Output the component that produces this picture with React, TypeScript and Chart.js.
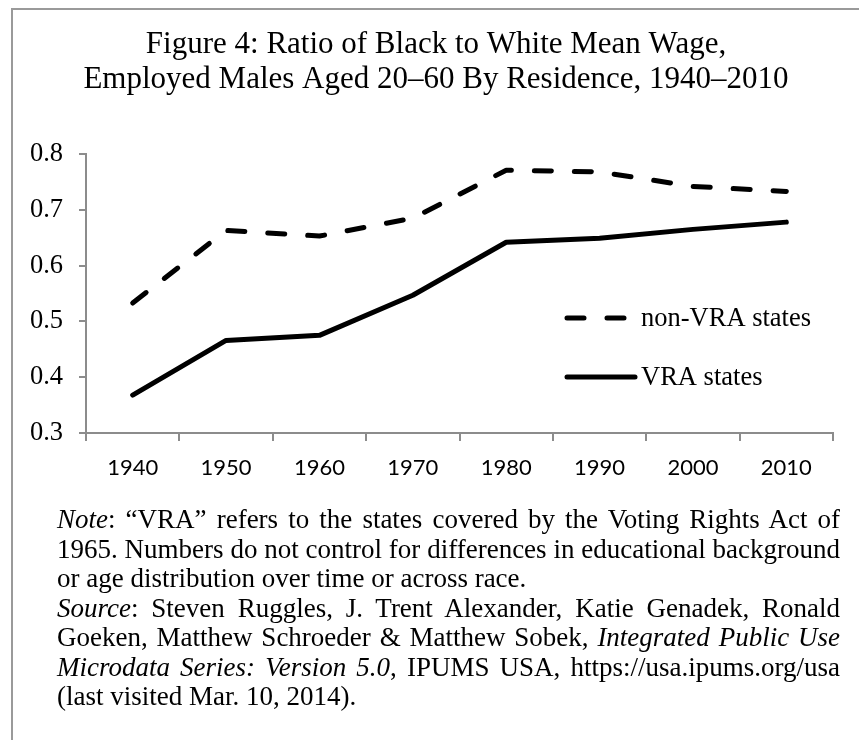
import React, { useEffect, useRef } from "react";
import { Chart, registerables } from "chart.js";

Chart.register(...registerables);

const categories = ["1940", "1950", "1960", "1970", "1980", "1990", "2000", "2010"];
const nonVRA = [0.533, 0.663, 0.653, 0.685, 0.771, 0.768, 0.742, 0.733];
const VRA = [0.368, 0.466, 0.475, 0.547, 0.642, 0.649, 0.665, 0.678];
const yTicks = [0.3, 0.4, 0.5, 0.6, 0.7, 0.8];
const seriesNames = ["non-VRA states", "VRA states"];
const titleLines = [
  "Figure 4: Ratio of Black to White Mean Wage,",
  "Employed Males Aged 20–60 By Residence, 1940–2010",
];

const SERIF = "'Liberation Serif', 'Times New Roman', serif";
const AXIS = "#8c8c8c";

const legendPlugin = {
  id: "insideLegend",
  afterDatasetsDraw(chart: any) {
    const { ctx, chartArea } = chart;
    const x0 = chartArea.left + 481;
    const x1 = chartArea.left + 549;
    const rows = [chartArea.top + 164, chartArea.top + 223];
    chart.data.datasets.forEach((ds: any, i: number) => {
      const y = rows[i];
      ctx.save();
      ctx.strokeStyle = ds.borderColor;
      ctx.lineWidth = ds.borderWidth;
      ctx.lineCap = "round";
      ctx.setLineDash(ds.borderDash || []);
      ctx.beginPath();
      ctx.moveTo(x0, y);
      ctx.lineTo(x1, y);
      ctx.stroke();
      ctx.setLineDash([]);
      ctx.fillStyle = "#000";
      ctx.font = `26.5px ${SERIF}`;
      ctx.textBaseline = "middle";
      ctx.textAlign = "left";
      ctx.fillText(ds.label, chartArea.left + 555, y + 1);
      ctx.restore();
    });
  },
};

export default function App() {
  const canvasRef = useRef<HTMLCanvasElement | null>(null);

  useEffect(() => {
    document.body.style.margin = "0";
    const canvas = canvasRef.current;
    if (!canvas) return;
    const chart = new Chart(canvas, {
      type: "line",
      data: {
        labels: categories,
        datasets: [
          {
            label: seriesNames[0],
            data: nonVRA,
            borderColor: "#000",
            borderWidth: 5,
            borderDash: [17, 23],
            borderCapStyle: "round",
            borderJoinStyle: "round",
            pointRadius: 0,
            tension: 0,
            fill: false,
            yAxisID: "y",
          },
          {
            label: seriesNames[1],
            data: VRA,
            borderColor: "#000",
            borderWidth: 5,
            borderCapStyle: "round",
            borderJoinStyle: "round",
            pointRadius: 0,
            tension: 0,
            fill: false,
            yAxisID: "y",
          },
        ],
      },
      options: {
        animation: false,
        responsive: true,
        maintainAspectRatio: false,
        layout: { padding: { left: 13, right: 0, top: 0, bottom: 247 } },
        plugins: {
          legend: { display: false },
          tooltip: { enabled: false },
          title: {
            display: true,
            text: titleLines,
            color: "#000",
            font: { family: SERIF, size: 31, weight: "normal", lineHeight: 1.13 },
            padding: { top: 27.5, bottom: 56.5 },
          },
        },
        scales: {
          x: {
            type: "category",
            offset: true,
            grid: {
              offset: true,
              drawOnChartArea: false,
              drawTicks: true,
              tickLength: 8,
              color: AXIS,
              lineWidth: 2,
            },
            border: { color: AXIS, width: 2 },
            ticks: {
              color: "#000",
              padding: 14,
              maxRotation: 0,
              font: { family: "Lato", size: 22 },
            },
            afterFit: (s: any) => {
              s.height = 60;
            },
          },
          y: {
            position: "left",
            min: 0.3,
            max: 0.8,
            grid: {
              drawOnChartArea: false,
              drawTicks: true,
              tickLength: 7,
              color: AXIS,
              lineWidth: 2,
            },
            border: { color: AXIS, width: 2 },
            ticks: {
              color: "#000",
              padding: 16,
              font: { family: SERIF, size: 26.5 },
              callback: (v: any) => Number(v).toFixed(1),
            },
            afterBuildTicks: (s: any) => {
              s.ticks = yTicks.map((v) => ({ value: v }));
            },
            afterFit: (s: any) => {
              s.width = 73;
            },
          },
          spacer: {
            type: "linear",
            position: "right",
            display: true,
            grid: { display: false, drawTicks: false },
            border: { display: false },
            ticks: { display: false },
            afterFit: (s: any) => {
              s.width = 26;
            },
          },
        },
      },
      plugins: [legendPlugin],
    });
    return () => chart.destroy();
  }, []);

  const lineBase: React.CSSProperties = {
    whiteSpace: "nowrap",
    height: 29.5,
    lineHeight: "29.5px",
  };
  const just: React.CSSProperties = { ...lineBase, textAlign: "justify", textAlignLast: "justify" };
  const left: React.CSSProperties = { ...lineBase, textAlign: "left" };

  return (
    <div
      style={{
        position: "relative",
        width: 859,
        height: 740,
        overflow: "hidden",
        background: "#fff",
      }}
    >
      <div
        style={{
          position: "absolute",
          left: 11,
          top: 8,
          width: 1000,
          height: 1000,
          borderLeft: "2px solid #9a9a9a",
          borderTop: "2px solid #9a9a9a",
        }}
      />
      <div style={{ position: "absolute", left: 0, top: 0, width: 859, height: 740 }}>
        <canvas ref={canvasRef} />
      </div>
      <div
        style={{
          position: "absolute",
          left: 57,
          top: 505,
          width: 783,
          fontFamily: SERIF,
          fontSize: 27,
          color: "#000",
        }}
      >
        <div style={just}>
          <i>Note</i>: “VRA” refers to the states covered by the Voting Rights Act of
        </div>
        <div style={just}>1965. Numbers do not control for differences in educational background</div>
        <div style={left}>or age distribution over time or across race.</div>
        <div style={just}>
          <i>Source</i>: Steven Ruggles, J. Trent Alexander, Katie Genadek, Ronald
        </div>
        <div style={just}>
          Goeken, Matthew Schroeder &amp; Matthew Sobek, <i>Integrated Public Use</i>
        </div>
        <div style={just}>
          <i>Microdata Series: Version 5.0</i>, IPUMS USA, https://usa.ipums.org/usa
        </div>
        <div style={left}>(last visited Mar. 10, 2014).</div>
      </div>
    </div>
  );
}
